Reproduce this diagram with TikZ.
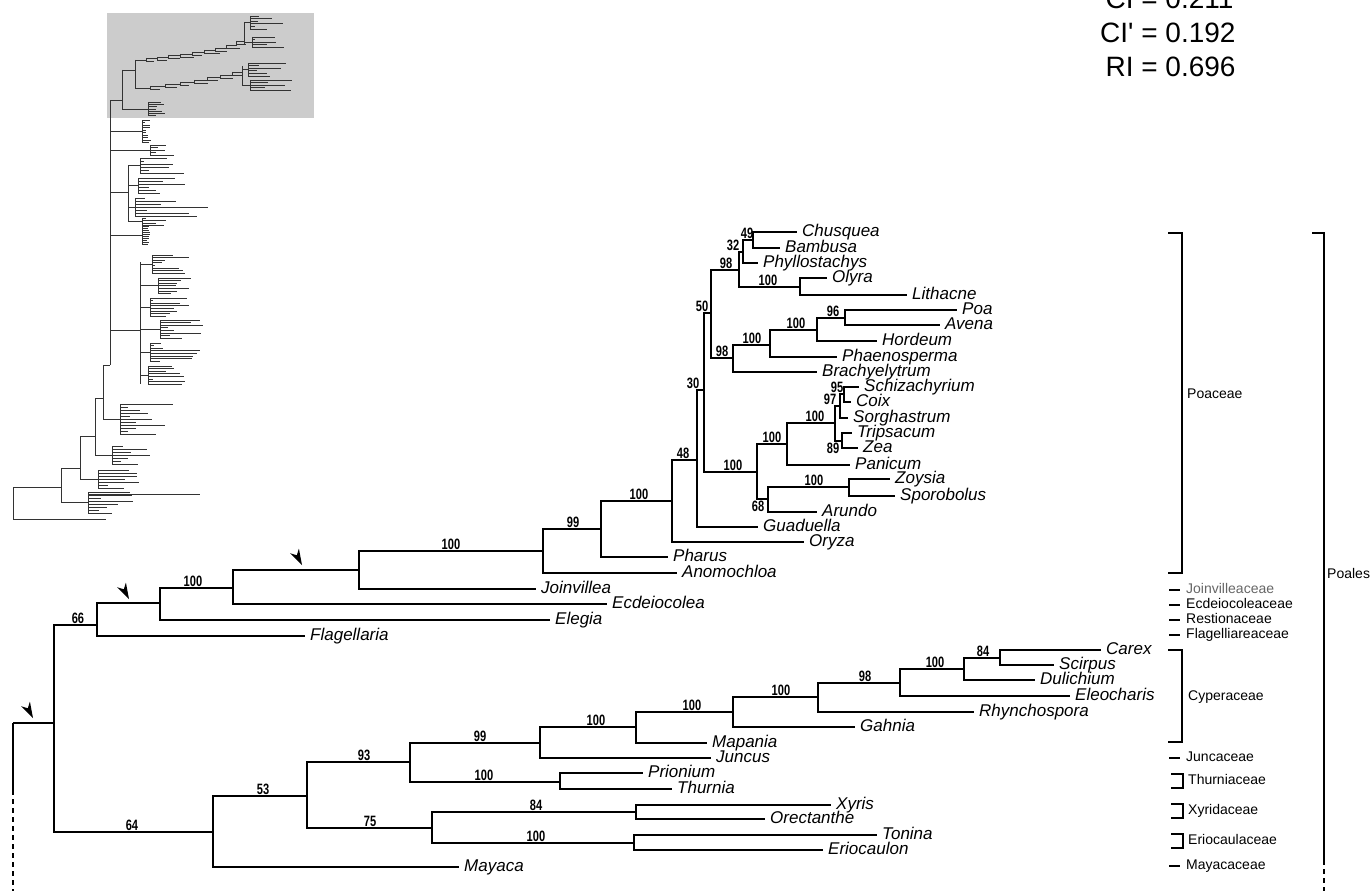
\documentclass[tikz,border=0pt]{standalone}
\usepackage{fontspec}
\setmainfont{Liberation Sans}
\newfontfamily\supfont[FakeStretch=0.74]{Liberation Sans}
\newfontfamily\cifont[Ligatures=TeXOff]{Liberation Sans}
\newcommand\tgrp[6]{%
  \pgfmathsetmacro\tgyb{#3+(#4-1)*#5}%
  \pgfmathsetmacro\tgym{(#3+\tgyb)/2}%
  \draw[thumb] (#1,\tgym) -- (#2,\tgym) (#2,#3) -- (#2,\tgyb);%
  \foreach \k in {1,...,#4}{%
    \pgfmathsetmacro\tgyy{#3+(\k-1)*#5}%
    \pgfmathsetmacro\tgl{#2+3+rnd*#6}%
    \draw[thumb] (#2,\tgyy) -- (\tgl,\tgyy);%
  }%
}
\newcommand\tkarrow[1]{\fill[shift={(#1)},rotate=-62] (0,0) -- (-16,-5) -- (-11,0) -- (-16,5) -- cycle;}
\begin{document}
\begin{tikzpicture}[x=1pt,y=-1pt,
  br/.style={line width=2.1pt},
  taxon/.style={anchor=west,inner xsep=5pt,inner ysep=0pt,text height=12pt,text depth=4pt,font=\fontsize{17}{17}\selectfont\itshape},
  sv/.style={anchor=south,inner sep=1pt,font=\supfont\bfseries\fontsize{15}{15}\selectfont},
  svb/.style={sv,anchor=north},
  fam/.style={anchor=west,inner sep=0pt,text height=10pt,text depth=3pt,font=\fontsize{14}{14}\selectfont},
  brk/.style={line width=1.8pt},
  thumb/.style={line width=0.7pt,black!80},
]
\useasboundingbox (0,0) rectangle (1371,891);
\pgfmathsetseed{4}

% ---------- thumbnail overview tree ----------
\fill[black!20] (107,13) rectangle (314,118);
\draw[thumb] (13,487) -- (13,519) -- (106,519);
\draw[thumb] (13,487) -- (61,487);
\draw[thumb] (61,468) -- (61,502);
\tgrp{61}{88}{492}{8}{3}{50}
\draw[thumb] (88,494) -- (200,494);
\draw[thumb] (61,468) -- (80,468);
\draw[thumb] (80,436) -- (80,480);
\tgrp{80}{98}{470}{7}{3}{40}
\draw[thumb] (80,436) -- (95,436);
\draw[thumb] (95,398) -- (95,455);
\tgrp{95}{112}{446}{7}{3}{45}
\draw[thumb] (95,398) -- (103,398);
\draw[thumb] (103,365) -- (103,420);
\tgrp{103}{120}{404}{11}{3}{60}
\draw[thumb] (103,365) -- (110,365);
\draw[thumb] (110,100) -- (110,365);
\draw[thumb] (110,330) -- (140,330);
\draw[thumb] (140,262) -- (140,384);
\tgrp{140}{152}{255}{8}{2.6}{35}
\tgrp{140}{158}{278}{7}{2.6}{30}
\tgrp{140}{150}{298}{8}{2.6}{40}
\tgrp{140}{160}{320}{8}{2.6}{45}
\tgrp{140}{150}{343}{8}{2.6}{50}
\tgrp{140}{148}{366}{8}{2.6}{35}
\draw[thumb] (110,192) -- (128,192);
\draw[thumb] (128,165) -- (128,222);
\tgrp{128}{140}{158}{6}{3}{50}
\tgrp{128}{138}{178}{6}{3}{45}
\tgrp{128}{135}{198}{7}{3}{75}
\tgrp{128}{142}{218}{4}{2.5}{25}
\tgrp{110}{142}{226}{10}{2}{6}
\tgrp{110}{142}{120}{10}{2.5}{8}
\tgrp{110}{150}{145}{5}{2.5}{25}
% Poales part inside the grey box
\draw[thumb] (110,100) -- (122,100);
\draw[thumb] (122,70) -- (122,110);
\tgrp{122}{148}{102}{7}{2.3}{14}
\draw[thumb] (122,70) -- (135,70);
\draw[thumb] (135,60) -- (135,88);
\draw[thumb] (135,60) -| (146,58) -| (157,57) -| (168,55) -| (180,54) -| (192,52) -| (204,50) -| (215,48) -| (226,45) -| (236,41) -| (244,34);
\foreach \x/\y/\l in {146/58/8,157/57/10,168/55/12,180/54/14,192/52/10,204/50/16,215/48/12,226/45/14,236/41/10}{
  \draw[thumb] (\x,\y) |- ({\x+\l},{\y+3});
}
\draw[thumb] (244,22) -- (244,44);
\tgrp{244}{250}{16}{6}{2.6}{35}
\tgrp{244}{252}{37}{5}{2.6}{40}
\draw[thumb] (135,88) -| (150,86) -| (165,84) -| (180,82) -| (194,80) -| (207,77) -| (220,75) -| (232,72) -| (242,69);
\foreach \x/\y/\l in {150/86/10,165/84/12,180/82/9,194/80/14,207/77/11,220/75/13,232/72/10}{
  \draw[thumb] (\x,\y) |- ({\x+\l},{\y+3});
}
\draw[thumb] (242,66) -- (242,86);
\tgrp{242}{248}{63}{6}{2.6}{55}
\tgrp{242}{250}{80}{5}{2.6}{45}

% ---------- statistics ----------
\node[anchor=base west,inner sep=0pt,font=\cifont\fontsize{28}{34}\selectfont] (ci) at (1100,9)
  {\begin{tabular}[t]{@{}r@{ }l@{}}CI & = 0.211\\ CI' & = 0.192\\ RI & = 0.696\end{tabular}};

% ---------- internal nodes ----------
\coordinate (r) at (13,723);
\coordinate (rd) at (13,790);
\coordinate (rb) at (13,891);
\coordinate (nA) at (54,723);
\coordinate (n66) at (97,625);
\coordinate (nR) at (160,603);
\coordinate (nE) at (233,588);
\coordinate (nJ) at (359,570);
\coordinate (nP) at (543,551);
\coordinate (nPh) at (601,529);
\coordinate (nO) at (672,501);
\coordinate (nGu) at (697,460);
\coordinate (nBO) at (704,390);
\coordinate (nBEP) at (711,313);
\coordinate (nBam) at (739,270);
\coordinate (n32) at (743,252);
\coordinate (n49) at (753,240);
\coordinate (nOl) at (800,287);
\coordinate (nPoo) at (733,358);
\coordinate (nPae) at (770,345);
\coordinate (nHo) at (817,330);
\coordinate (n96) at (845,318);
\coordinate (nPAC) at (757,472);
\coordinate (nPan) at (787,444);
\coordinate (nAnd) at (835,423);
\coordinate (n97) at (840,406);
\coordinate (n95) at (844,394);
\coordinate (n89) at (842,441);
\coordinate (n68) at (768,499);
\coordinate (nZo) at (849,487);
\coordinate (n64) at (213,832);
\coordinate (n53) at (307,796);
\coordinate (n93) at (410,762);
\coordinate (n99b) at (540,743);
\coordinate (nMa) at (636,727);
\coordinate (nGa) at (733,712);
\coordinate (nRh) at (818,697);
\coordinate (nEl) at (900,683);
\coordinate (nDu) at (964,669);
\coordinate (n84a) at (1000,658);
\coordinate (nTh) at (560,782);
\coordinate (n75) at (432,828);
\coordinate (nXy) at (636,812);
\coordinate (nEr) at (634,843);

% ---------- taxa ----------
\node[taxon] (chusquea) at (797,232) {Chusquea};
\node[taxon] (bambusa) at (780,248) {Bambusa};
\node[taxon] (phyllo) at (758,263) {Phyllostachys};
\node[taxon] (olyra) at (827,278) {Olyra};
\node[taxon] (lithacne) at (907,295) {Lithacne};
\node[taxon] (poa) at (957,310) {Poa};
\node[taxon] (avena) at (940,325) {Avena};
\node[taxon] (hordeum) at (877,341) {Hordeum};
\node[taxon] (phaeno) at (837,357) {Phaenosperma};
\node[taxon] (brachy) at (817,372) {Brachyelytrum};
\node[taxon] (schiz) at (859,387) {Schizachyrium};
\node[taxon] (coix) at (851,402) {Coix};
\node[taxon] (sorgh) at (848,418) {Sorghastrum};
\node[taxon] (trips) at (852,433) {Tripsacum};
\node[taxon] (zea) at (858,448) {Zea};
\node[taxon] (panicum) at (850,465) {Panicum};
\node[taxon] (zoysia) at (890,479) {Zoysia};
\node[taxon] (sporob) at (895,496) {Sporobolus};
\node[taxon] (arundo) at (817,512) {Arundo};
\node[taxon] (guad) at (758,527) {Guaduella};
\node[taxon] (oryza) at (804,542) {Oryza};
\node[taxon] (pharus) at (668,557) {Pharus};
\node[taxon] (anomo) at (677,573) {Anomochloa};
\node[taxon] (joinv) at (536,589) {Joinvillea};
\node[taxon] (ecdei) at (607,604) {Ecdeiocolea};
\node[taxon] (elegia) at (550,620) {Elegia};
\node[taxon] (flag) at (305,636) {Flagellaria};
\node[taxon] (carex) at (1101,650) {Carex};
\node[taxon] (scirpus) at (1054,665) {Scirpus};
\node[taxon] (dulich) at (1035,680) {Dulichium};
\node[taxon] (eleoch) at (1070,696) {Eleocharis};
\node[taxon] (rhyncho) at (974,712) {Rhynchospora};
\node[taxon] (gahnia) at (855,727) {Gahnia};
\node[taxon] (mapania) at (707,743) {Mapania};
\node[taxon] (juncus) at (711,758) {Juncus};
\node[taxon] (prionium) at (643,773) {Prionium};
\node[taxon] (thurnia) at (672,789) {Thurnia};
\node[taxon] (xyris) at (831,805) {Xyris};
\node[taxon] (orect) at (765,819) {Orectanthe};
\node[taxon] (tonina) at (877,835) {Tonina};
\node[taxon] (eriocaulon) at (823,850) {Eriocaulon};
\node[taxon] (mayaca) at (459,867) {Mayaca};

% ---------- branches ----------
\draw[br] (r) -- (nA);
\draw[br] (r) -- (rd);
\draw[br,dash pattern=on 5pt off 4pt] (rd) -- (rb);
\draw[br] (nA) |- (n66);   \draw[br] (nA) |- (n64);
\draw[br] (n66) |- (nR);   \draw[br] (n66) |- (flag.west);
\draw[br] (nR) |- (nE);    \draw[br] (nR) |- (elegia.west);
\draw[br] (nE) |- (nJ);    \draw[br] (nE) |- (ecdei.west);
\draw[br] (nJ) |- (nP);    \draw[br] (nJ) |- (joinv.west);
\draw[br] (nP) |- (nPh);   \draw[br] (nP) |- (anomo.west);
\draw[br] (nPh) |- (nO);   \draw[br] (nPh) |- (pharus.west);
\draw[br] (nO) |- (nGu);   \draw[br] (nO) |- (oryza.west);
\draw[br] (nGu) |- (nBO);  \draw[br] (nGu) |- (guad.west);
\draw[br] (nBO) |- (nBEP); \draw[br] (nBO) |- (nPAC);
\draw[br] (nBEP) |- (nBam); \draw[br] (nBEP) |- (nPoo);
\draw[br] (nBam) |- (n32); \draw[br] (nBam) |- (nOl);
\draw[br] (n32) |- (n49);  \draw[br] (n32) |- (phyllo.west);
\draw[br] (n49) |- (chusquea.west); \draw[br] (n49) |- (bambusa.west);
\draw[br] (nOl) |- (olyra.west); \draw[br] (nOl) |- (lithacne.west);
\draw[br] (nPoo) |- (nPae); \draw[br] (nPoo) |- (brachy.west);
\draw[br] (nPae) |- (nHo); \draw[br] (nPae) |- (phaeno.west);
\draw[br] (nHo) |- (n96);  \draw[br] (nHo) |- (hordeum.west);
\draw[br] (n96) |- (poa.west); \draw[br] (n96) |- (avena.west);
\draw[br] (nPAC) |- (nPan); \draw[br] (nPAC) |- (n68);
\draw[br] (nPan) |- (nAnd); \draw[br] (nPan) |- (panicum.west);
\draw[br] (nAnd) |- (n97); \draw[br] (nAnd) |- (n89);
\draw[br] (n97) |- (n95);  \draw[br] (n97) |- (sorgh.west);
\draw[br] (n95) |- (schiz.west); \draw[br] (n95) |- (coix.west);
\draw[br] (n89) |- (trips.west); \draw[br] (n89) |- (zea.west);
\draw[br] (n68) |- (nZo);  \draw[br] (n68) |- (arundo.west);
\draw[br] (nZo) |- (zoysia.west); \draw[br] (nZo) |- (sporob.west);
\draw[br] (n64) |- (n53);  \draw[br] (n64) |- (mayaca.west);
\draw[br] (n53) |- (n93);  \draw[br] (n53) |- (n75);
\draw[br] (n93) |- (n99b); \draw[br] (n93) |- (nTh);
\draw[br] (n99b) |- (nMa); \draw[br] (n99b) |- (juncus.west);
\draw[br] (nMa) |- (nGa);  \draw[br] (nMa) |- (mapania.west);
\draw[br] (nGa) |- (nRh);  \draw[br] (nGa) |- (gahnia.west);
\draw[br] (nRh) |- (nEl);  \draw[br] (nRh) |- (rhyncho.west);
\draw[br] (nEl) |- (nDu);  \draw[br] (nEl) |- (eleoch.west);
\draw[br] (nDu) |- (n84a); \draw[br] (nDu) |- (dulich.west);
\draw[br] (n84a) |- (carex.west); \draw[br] (n84a) |- (scirpus.west);
\draw[br] (nTh) |- (prionium.west); \draw[br] (nTh) |- (thurnia.west);
\draw[br] (n75) |- (nXy);  \draw[br] (n75) |- (nEr);
\draw[br] (nXy) |- (xyris.west); \draw[br] (nXy) |- (orect.west);
\draw[br] (nEr) |- (tonina.west); \draw[br] (nEr) |- (eriocaulon.west);

% ---------- support values ----------
\node[sv] (s66) at (78,625) {66};
\node[sv] (s100a) at (193,588) {100};
\node[sv] (s100b) at (451,551) {100};
\node[sv] (s99a) at (573,529) {99};
\node[sv] (s100c) at (639,501) {100};
\node[sv] (s48) at (683,460) {48};
\node[sv] (s30) at (693,390) {30};
\node[sv] (s50) at (702,313) {50};
\node[sv] (s98a) at (726,270) {98};
\node[sv] (s32) at (733,252) {32};
\node[sv] (s49) at (747,240) {49};
\node[sv] (s100d) at (768,287) {100};
\node[sv] (s98b) at (722,358) {98};
\node[sv] (s100e) at (752,345) {100};
\node[sv] (s100f) at (796,330) {100};
\node[sv] (s96) at (833,318) {96};
\node[sv] (s100g) at (733,472) {100};
\node[sv] (s100h) at (772,444) {100};
\node[sv] (s100i) at (815,423) {100};
\node[sv] (s97) at (830,406) {97};
\node[sv] (s95) at (837,394) {95};
\node[svb] (s89) at (833,442) {89};
\node[svb] (s68) at (758,500) {68};
\node[sv] (s100j) at (814,487) {100};
\node[sv] (s64) at (132,832) {64};
\node[sv] (s53) at (263,796) {53};
\node[sv] (s93) at (364,762) {93};
\node[sv] (s99b) at (480,743) {99};
\node[sv] (s100k) at (596,727) {100};
\node[sv] (s100l) at (692,712) {100};
\node[sv] (s100m) at (781,697) {100};
\node[sv] (s98c) at (865,683) {98};
\node[sv] (s100n) at (935,669) {100};
\node[sv] (s84a) at (983,658) {84};
\node[sv] (s100o) at (484,782) {100};
\node[sv] (s75) at (370,828) {75};
\node[sv] (s84b) at (536,812) {84};
\node[sv] (s100p) at (536,843) {100};

% ---------- arrowheads ----------
\coordinate (a1) at (129,599);
\coordinate (a2) at (302,565);
\coordinate (a3) at (33,718);
\tkarrow{a1}
\tkarrow{a2}
\tkarrow{a3}

% ---------- family brackets ----------
\draw[brk] (1168,233) -| (1182,573) -- (1168,573);
\node[fam] (poaceae) at (1187,395) {Poaceae};
\draw[brk] (1169,590) -- (1180,590);
\node[fam,text=black!60] (joinvf) at (1186,590) {Joinvilleaceae};
\draw[brk] (1169,605) -- (1180,605);
\node[fam] (ecdeif) at (1186,605) {Ecdeiocoleaceae};
\draw[brk] (1169,620) -- (1180,620);
\node[fam] (restf) at (1186,620) {Restionaceae};
\draw[brk] (1169,635) -- (1180,635);
\node[fam] (flagf) at (1186,635) {Flagelliareaceae};
\draw[brk] (1168,650) -| (1182,742) -- (1168,742);
\node[fam] (cyperf) at (1188,697) {Cyperaceae};
\draw[brk] (1169,758) -- (1180,758);
\node[fam] (juncf) at (1186,758) {Juncaceae};
\draw[brk] (1171,774) -| (1183,788) -- (1171,788);
\node[fam] (thurf) at (1188,781) {Thurniaceae};
\draw[brk] (1171,804) -| (1183,818) -- (1171,818);
\node[fam] (xyrf) at (1188,811) {Xyridaceae};
\draw[brk] (1171,834) -| (1183,848) -- (1171,848);
\node[fam] (eriof) at (1188,841) {Eriocaulaceae};
\draw[brk] (1169,866) -- (1180,866);
\node[fam] (mayf) at (1186,866) {Mayacaceae};
\draw[brk] (1312,233) -| (1324,860);
\draw[brk,dash pattern=on 5pt off 4pt] (1324,860) -- (1324,891);
\node[fam] (poales) at (1327,575) {Poales};
\end{tikzpicture}
\end{document}
